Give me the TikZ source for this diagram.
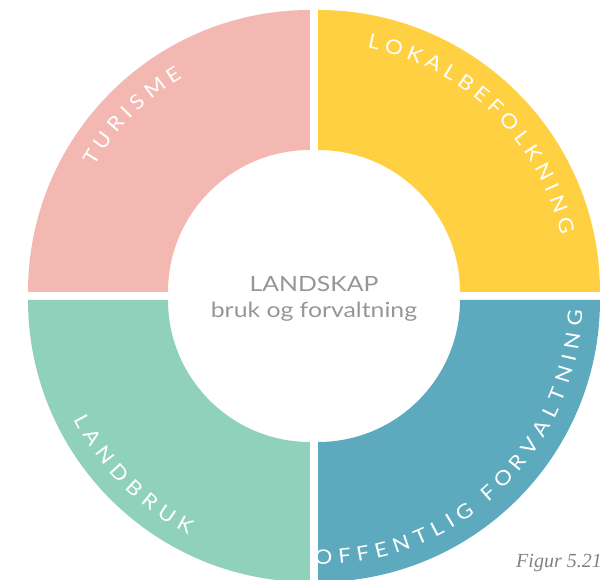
\documentclass[tikz,border=0pt]{standalone}
\usepackage{fontspec}
\setmainfont{Lato}
\newfontfamily\arcfam{Lato}[FakeStretch=1.12]
\newfontfamily\centerfam{Lato}[FakeStretch=1.18]
\newfontfamily\figserif{Liberation Serif}
\usetikzlibrary{calc}
\definecolor{cpink}{RGB}{243,184,178}
\definecolor{cyellow}{RGB}{255,208,65}
\definecolor{cgreen}{RGB}{144,209,188}
\definecolor{cblue}{RGB}{93,170,191}
\definecolor{cgraytext}{RGB}{150,150,150}
\definecolor{cfig}{RGB}{130,130,130}
\newsavebox\arcbox
\makeatletter
\newcommand\arcstrip{\strip@pt}
\makeatother
\newcommand\arcfontsel{\arcfam\fontsize{20}{20}\selectfont}
\newcommand\arctrack{5.8}
\newcommand\arcmid{257}
% "-" is a word gap with no glyph
\newcommand\arcglyph[1]{\if-#1\else#1\fi}
\newcommand\ArcText[6]{%
  \gdef\arctot{0}%
  \foreach \ch in {#6} {%
    \edef\arcw{\csname arcw@\ch\endcsname}%
    \pgfmathsetmacro\arctmp{\arctot+\arcw+\arctrack}%
    \xdef\arctot{\arctmp}%
  }%
  \pgfmathsetmacro\arcstart{#4-(#5)*(\arctot-\arctrack)/2/\arcmid*57.29578}%
  \xdef\arccur{\arcstart}%
  \foreach \ch [count=\k] in {#6} {%
    \edef\arcw{\csname arcw@\ch\endcsname}%
    \pgfmathsetmacro\arcang{\arccur+(#5)*\arcw/2/\arcmid*57.29578}%
    \pgfmathsetmacro\arcrot{\arcang+(#5)*90}%
    \node[arcletter,rotate=\arcrot] (#1-\k) at ($(#2)+(\arcang:#3)$) {\expandafter\arcglyph\expandafter{\ch}};
    \pgfmathsetmacro\arcnext{\arccur+(#5)*(\arcw+\arctrack)/\arcmid*57.29578}%
    \xdef\arccur{\arcnext}%
  }%
}
\tikzset{
  arcletter/.style={font=\arcfontsel, text=white, inner sep=0pt, anchor=base},
  centertext/.style={font=\centerfam\fontsize{21}{21}\selectfont, text=cgraytext, inner sep=0pt, anchor=base},
}
\begin{document}
\foreach \L in {A,B,D,E,F,G,I,K,L,M,N,O,R,S,T,U,V} {%
  \sbox\arcbox{\arcfontsel\L}%
  \expandafter\xdef\csname arcw@\L\endcsname{\arcstrip\wd\arcbox}%
}%
\expandafter\gdef\csname arcw@-\endcsname{4}%
\begin{tikzpicture}[x=1pt,y=1pt]
\useasboundingbox (-314,-284) rectangle (291,296);
\coordinate (cP) at (-4,4);
\coordinate (cY) at (4,4);
\coordinate (cG) at (-4,-4);
\coordinate (cB) at (4,-4);
% sectors
\fill[cpink] (cP) ++(180:282) arc[start angle=180,end angle=90,radius=282] -- ++(0,-140) arc[start angle=90,end angle=180,radius=142] -- cycle;
\fill[cyellow] (cY) ++(0:282) arc[start angle=0,end angle=90,radius=282] -- ++(0,-140) arc[start angle=90,end angle=0,radius=142] -- cycle;
\fill[cgreen] (cG) ++(180:282) arc[start angle=180,end angle=270,radius=282] -- ++(0,140) arc[start angle=270,end angle=180,radius=142] -- cycle;
\fill[cblue] (cB) ++(0:282) arc[start angle=0,end angle=-90,radius=282] -- ++(0,140) arc[start angle=-90,end angle=0,radius=142] -- cycle;
% arc labels
\ArcText{tur}{cP}{249.5}{135.3}{-1}{T,U,R,I,S,M,E}
\ArcText{lok}{cY}{249.5}{45.9}{-1}{L,O,K,A,L,B,E,F,O,L,K,N,I,N,G}
\ArcText{lan}{cG}{264.5}{224.7}{1}{L,A,N,D,B,R,U,K}
\ArcText{off}{cB}{264.5}{-46.5}{1}{O,F,F,E,N,T,L,I,G,-,F,O,R,V,A,L,T,N,I,N,G}
% centre
\node[centertext] (title) at (0,4) {LANDSKAP};
\node[centertext] (subtitle) at (0,-22) {bruk og forvaltning};
\node[anchor=base east, inner sep=0pt, font=\figserif\itshape\fontsize{20}{20}\selectfont, text=cfig] (fig) at (288,-271) {Figur 5.21};
\end{tikzpicture}
\end{document}
